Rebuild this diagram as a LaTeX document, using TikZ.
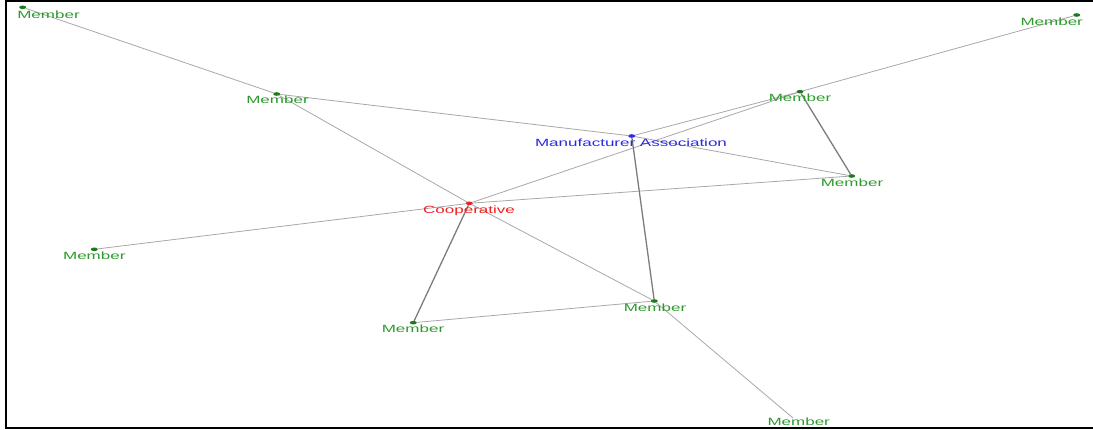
\documentclass[tikz,border=0pt]{standalone}
\usepackage{fontspec}
\setmainfont{Liberation Sans}
\usetikzlibrary{shapes.geometric}
\definecolor{mgreen}{HTML}{2E9A2E}
\definecolor{dgreen}{HTML}{1C7A1C}
\definecolor{mblue}{HTML}{2A2AE6}
\definecolor{mred}{HTML}{EE2020}
\definecolor{ethin}{HTML}{A8A8A8}
\definecolor{ethick}{HTML}{7C7C7C}
\newcommand{\wlab}[1]{\scalebox{1.62}[1]{#1}}
\tikzset{
  dot/.style={ellipse,inner sep=0pt,minimum width=7pt,minimum height=3.6pt,fill=dgreen,draw=none},
  lab/.style={anchor=base,inner sep=0pt,font=\fontsize{10.5}{12}\selectfont,text=mgreen},
  thinedge/.style={draw=ethin,line width=0.8pt},
  thickedge/.style={draw=ethick,line width=1.3pt},
  frameline/.style={draw=black,line width=2pt}
}
\begin{document}
\begin{tikzpicture}[x=1pt,y=-1pt]
\useasboundingbox (0,0) rectangle (1093,430);
\draw[frameline] (1094,1.5) -- (5.5,1.5) -- (5.5,428) -- (1094,428);
% dots
\node[dot] (m1) at (22.7,7.3) {};
\node[dot] (m2) at (276.7,94) {};
\node[dot,fill=mblue] (ma) at (631.7,136) {};
\node[dot] (m3) at (800,91.7) {};
\node[dot] (m4) at (851.7,176) {};
\node[dot] (m5) at (1076.7,15) {};
\node[dot,fill=mred] (coop) at (469.3,203.3) {};
\node[dot] (m6) at (94.3,249.3) {};
\node[dot] (m7) at (413.3,322.7) {};
\node[dot] (m8) at (654.3,301) {};
\coordinate (m9) at (793,418);
% edges
\draw[thinedge] (m1) -- (m2);
\draw[thinedge] (m2) -- (ma);
\draw[thinedge] (m2) -- (coop);
\draw[thinedge] (ma) -- (m3);
\draw[thinedge] (coop) -- (m3);
\draw[thinedge] (m3) -- (m5);
\draw[thickedge] (m3) -- (m4);
\draw[thinedge] (ma) -- (m4);
\draw[thinedge] (coop) -- (m4);
\draw[thinedge] (coop) -- (m6);
\draw[thickedge] (coop) -- (m7);
\draw[thinedge] (coop) -- (m8);
\draw[thickedge] (ma) -- (m8);
\draw[thinedge] (m7) -- (m8);
\draw[thinedge] (m8) -- (m9);
% labels
\node[lab] (l1) at (48.5,18.8) {\wlab{Member}};
\node[lab] (l2) at (277.5,103.8) {\wlab{Member}};
\node[lab,text=mblue] (lma) at (631,146.1) {\wlab{Manufacturer Association}};
\node[lab] (l3) at (800,101.1) {\wlab{Member}};
\node[lab] (l4) at (852,186.1) {\wlab{Member}};
\node[lab] (l5) at (1051.7,25.5) {\wlab{Member}};
\node[lab,text=mred] (lcoop) at (469,213.8) {\wlab{Cooperative}};
\node[lab] (l6) at (94.3,259.8) {\wlab{Member}};
\node[lab] (l7) at (413,332.5) {\wlab{Member}};
\node[lab] (l8) at (655,311.1) {\wlab{Member}};
\node[lab] (l9) at (798.7,425.3) {\wlab{Member}};
\end{tikzpicture}
\end{document}
